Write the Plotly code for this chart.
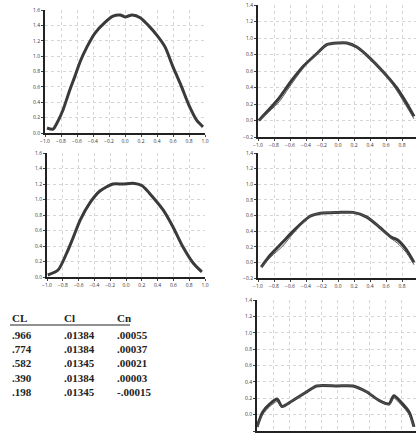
import plotly.graph_objects as go

# ---- data ----
p1_x = [-0.975, -0.9, -0.85, -0.775, -0.69, -0.625, -0.56, -0.475, -0.375, -0.25, -0.15, -0.06, 0.0,
        0.09, 0.19, 0.3, 0.4, 0.5, 0.6, 0.7, 0.8, 0.9, 0.975]
p1_y = [0.065, 0.05, 0.13, 0.30, 0.56, 0.74, 0.93, 1.12, 1.30, 1.44, 1.52, 1.535, 1.51,
        1.535, 1.50, 1.39, 1.27, 1.12, 0.86, 0.62, 0.36, 0.16, 0.08]

p3_x = [-0.99, -0.86, -0.75, -0.68, -0.58, -0.455, -0.33, -0.165, -0.04, 0.09, 0.2, 0.34, 0.47,
        0.595, 0.72, 0.85, 0.96]
p3_y = [0.026, 0.09, 0.31, 0.48, 0.735, 0.96, 1.11, 1.20, 1.20, 1.21, 1.18, 1.03, 0.865,
        0.645, 0.39, 0.18, 0.065]

p2_x = [-0.99, -0.75, -0.59, -0.43, -0.26, -0.14, 0.0, 0.11, 0.235, 0.395, 0.555, 0.73, 0.85, 0.95]
p2_y = [0.0, 0.255, 0.47, 0.66, 0.815, 0.92, 0.94, 0.94, 0.89, 0.76, 0.60, 0.40, 0.22, 0.05]
p2_y2 = [0.0, 0.21, 0.43, 0.64, 0.81, 0.92, 0.94, 0.94, 0.89, 0.76, 0.60, 0.37, 0.18, 0.02]

p4_x = [-0.96, -0.84, -0.69, -0.56, -0.35, -0.22, 0.0, 0.19, 0.36, 0.52, 0.67, 0.74, 0.85, 0.95]
p4_y = [-0.06, 0.10, 0.26, 0.40, 0.59, 0.63, 0.64, 0.64, 0.58, 0.45, 0.32, 0.29, 0.17, 0.0]
p4_y2 = [-0.06, 0.07, 0.21, 0.37, 0.59, 0.63, 0.64, 0.64, 0.58, 0.45, 0.30, 0.25, 0.13, -0.03]

p5_x = [-1.0, -0.93, -0.84, -0.75, -0.69, -0.56, -0.38, -0.26, 0.0, 0.19, 0.36, 0.52, 0.64,
        0.70, 0.79, 0.89, 0.95]
p5_y = [-0.15, 0.03, 0.13, 0.19, 0.10, 0.17, 0.28, 0.35, 0.35, 0.35, 0.28, 0.17, 0.13,
        0.23, 0.15, 0.03, -0.15]
p5_y2 = [-0.15, 0.0, 0.10, 0.16, 0.09, 0.17, 0.28, 0.35, 0.35, 0.35, 0.28, 0.17, 0.12,
         0.20, 0.12, 0.0, -0.15]

table_head = ["CL", "Cl", "Cn"]
col_CL = [".966", ".774", ".582", ".390", ".198"]
col_Cl = [".01384", ".01384", ".01345", ".01384", ".01345"]
col_Cn = [".00055", ".00037", ".00021", ".00003", "-.00015"]

W, H = 416, 433

fig = go.Figure()

panels = [
    ("x", "y", p1_x, p1_y, None, (45, 205), (10, 133), [0, 1.6], [-1.0, 1.0], True),
    ("x2", "y2", p2_x, p2_y, p2_y2, (258, 416), (5, 137), [-0.2, 1.4], [-1.0, 0.975], True),
    ("x3", "y3", p3_x, p3_y, None, (47, 205), (153, 277), [0, 1.6], [-1.0, 1.0], True),
    ("x4", "y4", p4_x, p4_y, p4_y2, (258, 416), (153, 278), [-0.2, 1.4], [-1.0, 0.975], True),
    ("x5", "y5", p5_x, p5_y, p5_y2, (257, 416), (300, 431), [-0.2, 1.4], [-1.0, 0.975], False),
]

layout_axes = {}
for i, (xa, ya, xs, ys, ys2, xd, yd, yr, xr, xlab) in enumerate(panels):
    fig.add_trace(go.Scatter(x=xs, y=ys, xaxis=xa, yaxis=ya, mode="lines",
                             line=dict(color="#3a3a3a", width=3, shape="spline", smoothing=0.7),
                             showlegend=False, hoverinfo="skip"))
    if ys2 is not None:
        fig.add_trace(go.Scatter(x=xs, y=ys2, xaxis=xa, yaxis=ya, mode="lines",
                                 line=dict(color="#555", width=1, shape="spline", smoothing=0.7),
                                 showlegend=False, hoverinfo="skip"))
    n = "" if i == 0 else str(i + 1)
    layout_axes["xaxis" + n] = dict(
        domain=[xd[0] / W, xd[1] / W], anchor=ya, range=xr, dtick=0.2, tick0=-1.0,
        tickformat=".1f", showline=True, linecolor="#222", linewidth=2, ticks="outside",
        ticklen=2, tickcolor="#444", tickfont=dict(size=5, color="#333"), automargin=False,
        showticklabels=xlab,
        showgrid=True, gridcolor="#d6d6d6", griddash="dot", gridwidth=1, zeroline=False)
    layout_axes["yaxis" + n] = dict(
        domain=[1 - yd[1] / H, 1 - yd[0] / H], anchor=xa, range=yr, dtick=0.2,
        tickformat=".1f", showline=True, linecolor="#222", linewidth=2, ticks="outside",
        ticklen=2, tickcolor="#444", tickfont=dict(size=5, color="#333"), automargin=False,
        showgrid=True, gridcolor="#d6d6d6", griddash="dot", gridwidth=1, zeroline=False)

fig.update_layout(**layout_axes)

# ---- table ----
annots = []
col_x = [10, 62, 115]
font = dict(family="Liberation Serif", size=11, color="#222")
for cx, h in zip(col_x, table_head):
    annots.append(dict(x=cx / W, y=1 - 318 / H, xref="paper", yref="paper", text="<b>" + h + "</b>",
                       showarrow=False, xanchor="left", yanchor="middle", font=font))
row_y = [335, 349, 363, 378, 392]
for ry, a, b, c in zip(row_y, col_CL, col_Cl, col_Cn):
    for cx, t in zip(col_x, [a, b, c]):
        annots.append(dict(x=cx / W, y=1 - ry / H, xref="paper", yref="paper", text="<b>" + t + "</b>",
                           showarrow=False, xanchor="left", yanchor="middle", font=font))
fig.update_layout(annotations=annots)
fig.add_shape(type="line", xref="paper", yref="paper", x0=10 / W, x1=130 / W,
              y0=1 - 325 / H, y1=1 - 325 / H, line=dict(color="#222", width=1))

fig.update_layout(width=W, height=H, margin=dict(l=0, r=0, t=0, b=0),
                  paper_bgcolor="white", plot_bgcolor="white")

fig.write_html("out.html")
